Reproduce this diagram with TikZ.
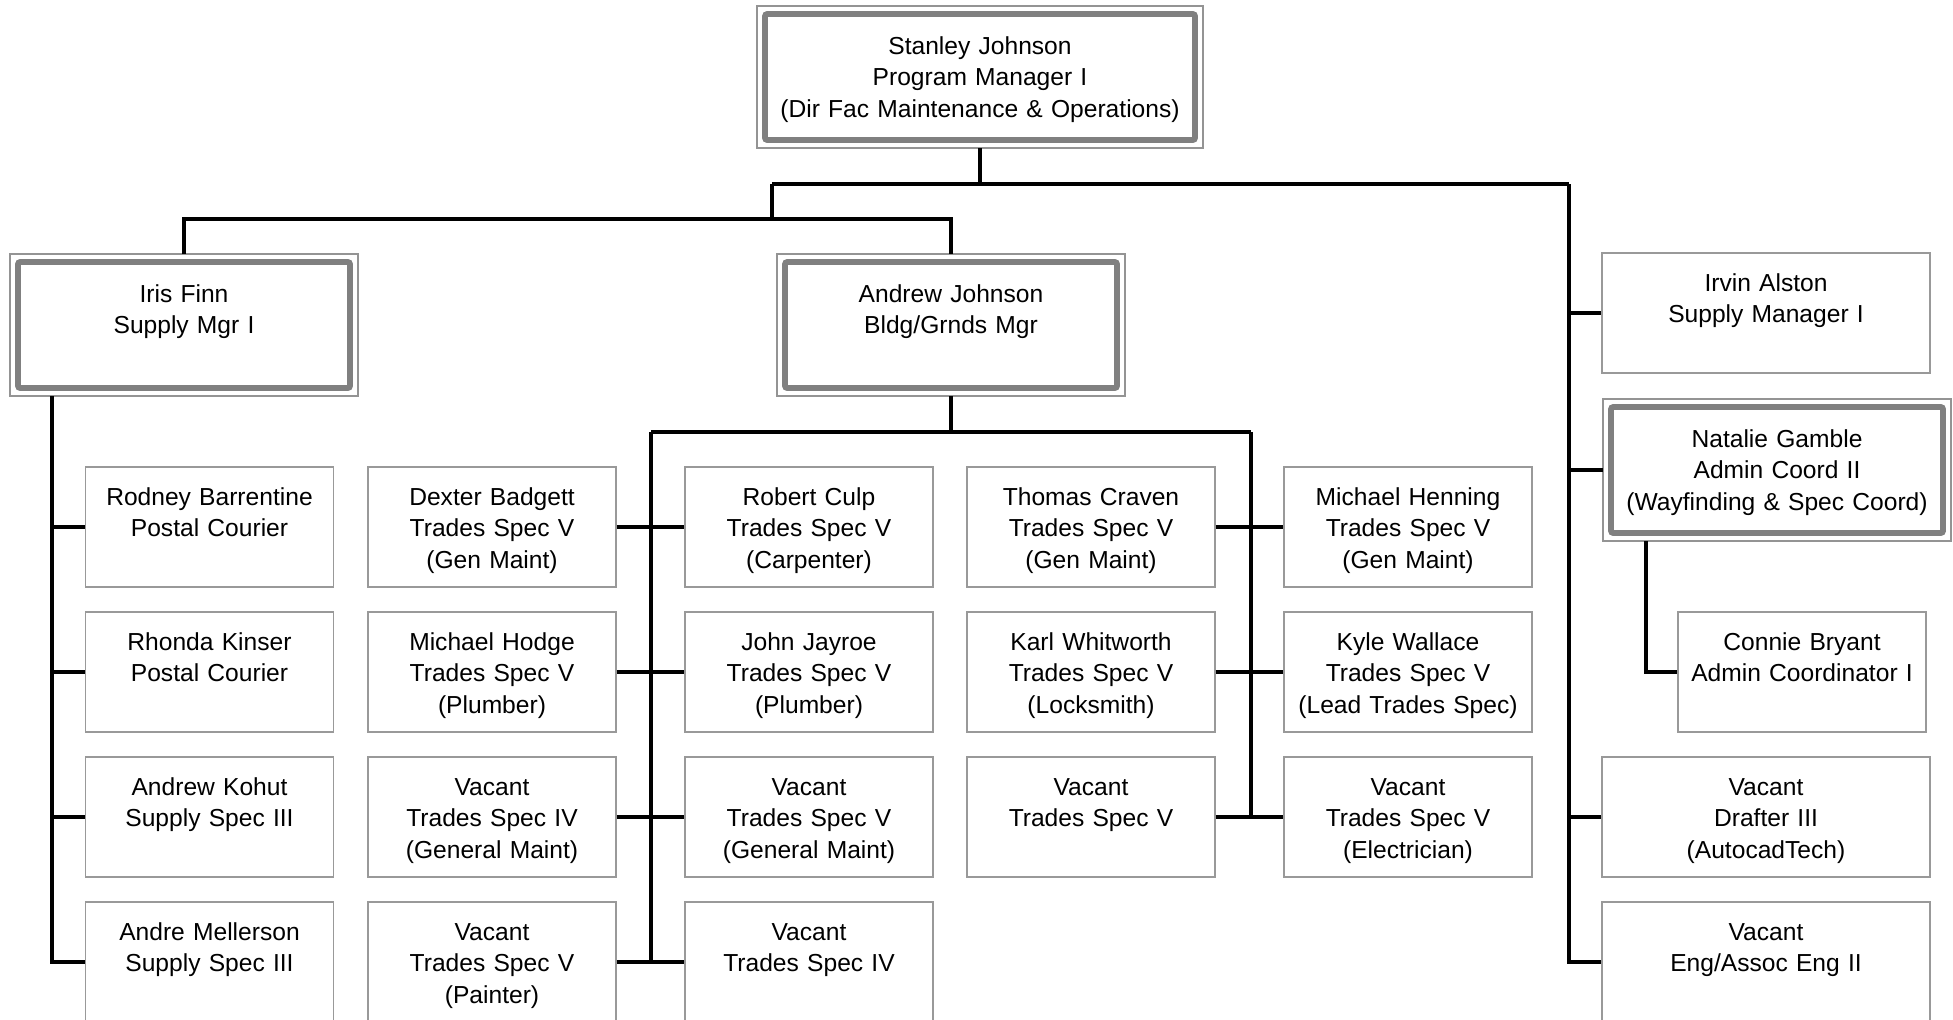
\documentclass[tikz,border=0pt]{standalone}
\usepackage{fontspec}
\setmainfont{Liberation Sans}
\usepackage{tikz}
\usetikzlibrary{positioning}
\definecolor{boxgray}{gray}{0.6}
\definecolor{mgrgray}{gray}{0.5}
\definecolor{framegray}{gray}{0.58}

\begin{document}
\begin{tikzpicture}[x=0.5pt,y=-0.5pt,
  every node/.style={font=\fontsize{12.3}{15.85}\selectfont},
  staff/.style={draw=boxgray,line width=0.7pt,fill=white,inner sep=0pt,
    text width=124pt,align=center,text height=19pt,text depth=41pt},
  wide/.style={staff,text width=164pt},
  mgr/.style={draw=mgrgray,line width=2.8pt,rounded corners=1pt,fill=white,
    inner sep=0pt,outer sep=4pt,text width=166pt,align=center,
    text height=20pt,text depth=43pt},
  mgrframe/.style={draw=framegray,line width=1.2pt},
  conn/.style={line width=1.6pt}]
\path[use as bounding box,clip] (0,0) rectangle (1953,1019);
% managers
\node[mgr,text width=215pt] (stanley) at (980,77) {Stanley Johnson\\Program Manager I\\(Dir Fac Maintenance \& Operations)};
\node[mgr] (iris) at (184,325) {Iris Finn\\Supply Mgr I};
\node[mgr] (andrew) at (951,325) {Andrew Johnson\\Bldg/Grnds Mgr};
\node[mgr] (natalie) at (1777,470) {Natalie Gamble\\Admin Coord II\\(Wayfinding \& Spec Coord)};
\foreach \n in {stanley,iris,andrew,natalie}
  \draw[mgrframe] (\n.north west) rectangle (\n.south east);
% supply staff
\node[staff] (barrentine) at (209.5,527) {Rodney Barrentine\\Postal Courier};
\node[staff] (kinser) at (209.5,672) {Rhonda Kinser\\Postal Courier};
\node[staff] (kohut) at (209.5,817) {Andrew Kohut\\Supply Spec III};
\node[staff] (mellerson) at (209.5,962) {Andre Mellerson\\Supply Spec III};
% trades, left of the first trunk
\node[staff] (badgett) at (492,527) {Dexter Badgett\\Trades Spec V\\(Gen Maint)};
\node[staff] (hodge) at (492,672) {Michael Hodge\\Trades Spec V\\(Plumber)};
\node[staff] (vacgenIV) at (492,817) {Vacant\\Trades Spec IV\\(General Maint)};
\node[staff] (vacpainter) at (492,962) {Vacant\\Trades Spec V\\(Painter)};
% trades, right of the first trunk
\node[staff] (culp) at (809,527) {Robert Culp\\Trades Spec V\\(Carpenter)};
\node[staff] (jayroe) at (809,672) {John Jayroe\\Trades Spec V\\(Plumber)};
\node[staff] (vacgenV) at (809,817) {Vacant\\Trades Spec V\\(General Maint)};
\node[staff] (vactsIV) at (809,962) {Vacant\\Trades Spec IV};
% trades, second trunk
\node[staff] (craven) at (1091,527) {Thomas Craven\\Trades Spec V\\(Gen Maint)};
\node[staff] (whitworth) at (1091,672) {Karl Whitworth\\Trades Spec V\\(Locksmith)};
\node[staff] (vactsV) at (1091,817) {Vacant\\Trades Spec V};
\node[staff] (henning) at (1408,527) {Michael Henning\\Trades Spec V\\(Gen Maint)};
\node[staff] (wallace) at (1408,672) {Kyle Wallace\\Trades Spec V\\(Lead Trades Spec)};
\node[staff] (vacelec) at (1408,817) {Vacant\\Trades Spec V\\(Electrician)};
% right column
\node[wide] (alston) at (1766,313) {Irvin Alston\\Supply Manager I};
\node[staff] (bryant) at (1802,672) {Connie Bryant\\Admin Coordinator I};
\node[wide] (vacdrafter) at (1766,817) {Vacant\\Drafter III\\(AutocadTech)};
\node[wide] (vaceng) at (1766,962) {Vacant\\Eng/Assoc Eng II};
% top level lines
\coordinate (ltrunk) at (772,184);
\coordinate (rtrunk) at (1569,184);
\draw[conn] (stanley.south) |- (ltrunk);
\draw[conn] (ltrunk) -- (rtrunk);
\draw[conn] (ltrunk) -- ++(0,35) coordinate (mid);
\draw[conn] (iris.north) |- (mid) -| (andrew.north);
\draw[conn] (rtrunk) |- (vaceng.west);
\foreach \n in {alston,natalie,vacdrafter}
  \draw[conn] (rtrunk |- \n.west) -- (\n.west);
\draw[conn] ([xshift=21.5pt]natalie.south west) |- (bryant.west);
% supply
\coordinate (itrunk) at ([xshift=21pt]iris.south west);
\draw[conn] (itrunk) |- (mellerson.west);
\foreach \n in {barrentine,kinser,kohut}
  \draw[conn] (itrunk |- \n.west) -- (\n.west);
% trades
\draw[conn] (andrew.south) -- ++(0,35) coordinate (abus);
\coordinate (atl) at (651,432);
\coordinate (atr) at (1251,432);
\draw[conn] (atl) -- (atr);
\draw[conn] (atl) -- (atl |- vactsIV.west);
\draw[conn] (atr) -- (atr |- vacelec.west);
\foreach \a/\b in {badgett/culp,hodge/jayroe,vacgenIV/vacgenV,vacpainter/vactsIV,craven/henning,whitworth/wallace,vactsV/vacelec}
  \draw[conn] (\a.east) -- (\b.west);
\end{tikzpicture}
\end{document}
